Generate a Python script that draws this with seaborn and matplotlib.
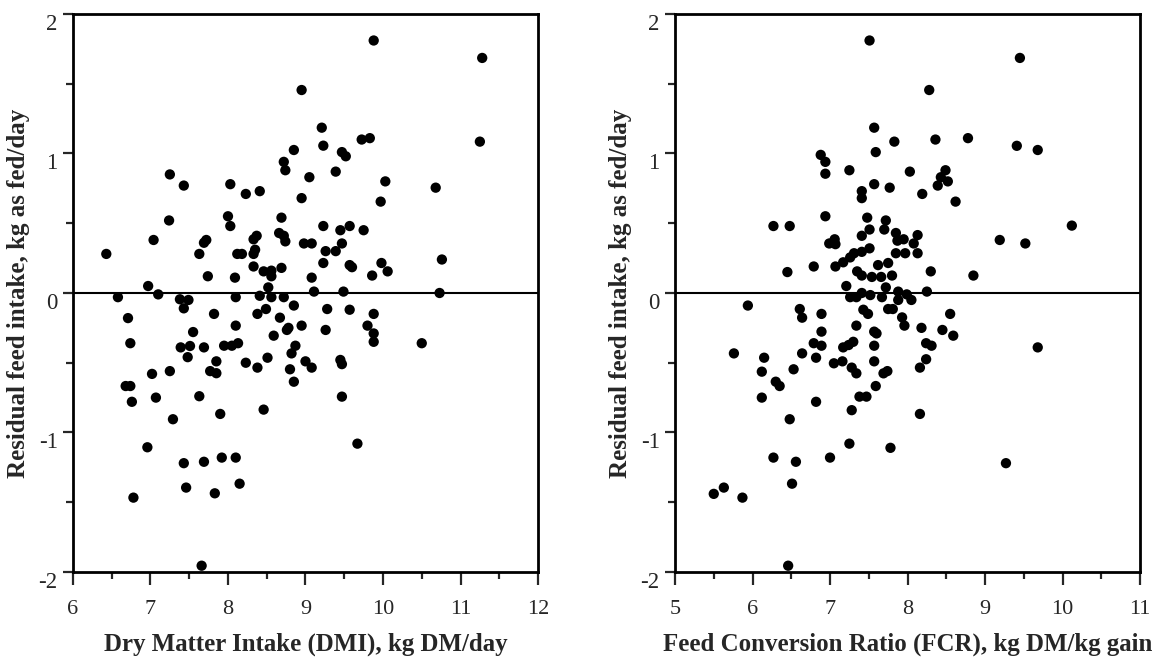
import matplotlib
matplotlib.use("Agg")
import matplotlib.pyplot as plt
import seaborn as sns
import pandas as pd
from matplotlib.ticker import MultipleLocator

# left panel: dry matter intake vs residual feed intake
dmi = [6.43, 7.25, 7.43, 7.24, 7.04, 7.63, 7.69, 7.72, 7.74, 6.97, 7.10,
       9.88, 8.95, 9.21, 9.23, 9.725, 9.83, 8.85, 9.47, 9.52, 8.72, 8.74,
       9.39, 9.05, 8.03, 8.23, 8.41, 8.95, 9.97, 8.00, 8.03, 8.69, 9.23,
       9.45, 9.57, 9.75, 8.33, 8.37, 8.66, 8.72, 8.74, 8.98, 9.08, 8.35,
       8.33, 8.12, 8.18, 9.26, 9.39, 9.47, 9.23, 9.57, 9.60, 9.98, 8.33,
       8.46, 8.56, 8.56, 8.69, 8.52, 8.09, 9.08, 9.86, 9.11, 9.49, 11.28,
       11.25, 10.03, 10.68, 10.06, 10.76, 10.73,
       6.58, 7.38, 7.49, 7.43, 6.71, 7.82, 7.55, 6.74, 7.39, 7.51, 7.69,
       7.48, 7.85, 7.02, 7.25, 7.77, 7.85, 6.68, 6.74, 6.76, 7.07, 7.63,
       7.29, 7.90, 6.96, 7.43, 7.69, 7.92, 8.10, 7.46, 6.78, 7.83, 7.66,
       8.10, 8.41, 8.56, 8.72, 8.38, 8.49, 8.85, 9.28, 9.57, 9.88, 8.10,
       8.67, 8.95, 8.76, 8.78, 8.59, 9.26, 9.80, 9.88, 9.88, 7.95, 8.05,
       8.13, 8.87, 8.82, 8.23, 8.38, 8.51, 8.80, 9.00, 9.08, 9.45, 9.47,
       8.85, 9.47, 8.46, 9.67, 8.15, 10.50]
rfi_dmi = [0.28, 0.85, 0.77, 0.52, 0.38, 0.28, 0.36, 0.38, 0.12, 0.05, -0.01,
           1.81, 1.455, 1.185, 1.056, 1.10, 1.11, 1.025, 1.01, 0.98, 0.94, 0.88,
           0.87, 0.83, 0.78, 0.71, 0.73, 0.68, 0.655, 0.55, 0.48, 0.54, 0.48,
           0.45, 0.48, 0.45, 0.385, 0.41, 0.43, 0.41, 0.37, 0.355, 0.355, 0.31,
           0.28, 0.28, 0.28, 0.30, 0.30, 0.355, 0.215, 0.20, 0.185, 0.215, 0.19,
           0.155, 0.16, 0.12, 0.18, 0.04, 0.11, 0.11, 0.125, 0.01, 0.01, 1.685,
           1.085, 0.80, 0.755, 0.155, 0.24, 0.0,
           -0.03, -0.045, -0.05, -0.11, -0.18, -0.15, -0.28, -0.36, -0.39, -0.38, -0.39,
           -0.46, -0.49, -0.58, -0.56, -0.56, -0.575, -0.667, -0.667, -0.78, -0.75, -0.74,
           -0.905, -0.867, -1.106, -1.22, -1.21, -1.18, -1.18, -1.395, -1.467, -1.436, -1.955,
           -0.03, -0.02, -0.03, -0.03, -0.15, -0.115, -0.09, -0.115, -0.12, -0.15, -0.234,
           -0.177, -0.234, -0.265, -0.25, -0.306, -0.265, -0.234, -0.29, -0.35, -0.378, -0.378,
           -0.36, -0.378, -0.433, -0.50, -0.535, -0.464, -0.547, -0.49, -0.535, -0.48, -0.51,
           -0.636, -0.743, -0.836, -1.08, -1.367, -0.36]

# right panel: feed conversion ratio vs residual feed intake
fcr = [6.27, 6.48, 6.45, 7.51, 8.28, 7.57, 7.83, 7.59, 6.88, 6.94, 6.94,
       7.25, 8.03, 7.57, 7.77, 7.41, 7.41, 8.19, 6.94, 7.48, 7.72, 7.51,
       7.41, 7.70, 7.85, 7.87, 7.95, 8.13, 8.08, 6.99, 7.06, 7.07, 7.51,
       7.31, 7.41, 7.26, 7.17, 7.07, 6.79, 7.85, 7.97, 8.13, 7.62, 7.75,
       7.35, 7.41, 7.54, 7.66, 7.80, 7.72, 7.21, 8.30, 8.25, 9.45, 8.36,
       8.78, 9.41, 9.68, 8.49, 8.43, 8.52, 8.39, 8.62, 10.12, 9.19, 9.52,
       8.85, 7.41, 7.88,
       7.26, 7.34, 7.52, 7.67, 7.88, 7.99, 8.05, 5.94, 6.61, 6.64, 5.76,
       6.15, 6.64, 6.12, 6.53, 6.30, 6.35, 6.12, 6.48, 6.27, 6.56, 6.51,
       5.50, 5.63, 5.87, 6.46, 6.89, 7.43, 7.49, 7.75, 7.81, 7.93, 7.96,
       8.18, 7.34, 6.89, 7.57, 7.60, 6.79, 6.89, 7.17, 7.24, 7.30, 7.57,
       8.24, 8.24, 6.82, 7.05, 7.16, 7.28, 7.34, 7.57, 7.69, 7.74, 8.16,
       7.59, 7.38, 7.47, 6.82, 7.28, 8.16, 7.25, 7.78, 7.00, 8.55, 8.45,
       8.59, 8.31, 9.68, 9.27]
rfi_fcr = [0.48, 0.48, 0.15, 1.81, 1.455, 1.185, 1.085, 1.01, 0.99, 0.94, 0.855,
           0.88, 0.87, 0.78, 0.755, 0.73, 0.68, 0.71, 0.55, 0.54, 0.52, 0.455,
           0.41, 0.455, 0.43, 0.375, 0.385, 0.415, 0.355, 0.355, 0.385, 0.35, 0.32,
           0.285, 0.295, 0.255, 0.22, 0.19, 0.19, 0.285, 0.285, 0.285, 0.20, 0.215,
           0.155, 0.125, 0.115, 0.115, 0.125, 0.04, 0.05, 0.155, 0.01, 1.685, 1.10,
           1.11, 1.055, 1.025, 0.88, 0.83, 0.80, 0.77, 0.655, 0.483, 0.38, 0.355,
           0.125, 0.0, 0.01,
           -0.03, -0.03, -0.015, -0.03, -0.05, -0.01, -0.05, -0.09, -0.115, -0.177, -0.433,
           -0.464, -0.433, -0.564, -0.547, -0.636, -0.667, -0.75, -0.905, -1.18, -1.21, -1.367,
           -1.44, -1.395, -1.467, -1.955, -0.15, -0.12, -0.15, -0.115, -0.115, -0.175, -0.234,
           -0.25, -0.234, -0.277, -0.277, -0.29, -0.36, -0.378, -0.39, -0.373, -0.35, -0.378,
           -0.36, -0.475, -0.464, -0.504, -0.49, -0.535, -0.576, -0.49, -0.576, -0.56, -0.535,
           -0.667, -0.743, -0.743, -0.78, -0.84, -0.867, -1.08, -1.11, -1.18, -0.15, -0.265,
           -0.306, -0.378, -0.39, -1.22]

left_df = pd.DataFrame({'DMI': dmi, 'RFI': rfi_dmi})
right_df = pd.DataFrame({'FCR': fcr, 'RFI': rfi_fcr})

sns.set_style("ticks")
plt.rcParams['font.family'] = ['Liberation Serif', 'DejaVu Serif']
plt.rcParams['axes.unicode_minus'] = False

fig = plt.figure(figsize=(11.62, 6.57), dpi=100)
ax1 = fig.add_axes([0.0628, 0.1294, 0.4002, 0.8493])
ax2 = fig.add_axes([0.5809, 0.1294, 0.4002, 0.8493])


def style_panel(ax, xlim, xlabel):
    ax.axhline(0, color='black', lw=1.5, zorder=1)
    ax.set_xlim(*xlim)
    ax.set_ylim(-2, 2)
    ax.xaxis.set_major_locator(MultipleLocator(1))
    ax.xaxis.set_minor_locator(MultipleLocator(0.5))
    ax.yaxis.set_major_locator(MultipleLocator(1))
    ax.yaxis.set_minor_locator(MultipleLocator(0.5))
    for s in ax.spines.values():
        s.set_linewidth(2)
        s.set_color('black')
    ax.tick_params(axis='x', which='major', direction='out', length=9.5, width=1.6,
                   pad=11, labelsize=16, top=False)
    ax.tick_params(axis='x', which='minor', direction='out', length=5, width=1.6, top=False)
    ax.tick_params(axis='y', which='major', direction='out', length=7, width=1.6,
                   pad=4, labelsize=16.5, right=False)
    ax.tick_params(axis='y', which='minor', direction='out', length=5, width=1.6, right=False)
    # y tick labels in the original sit a little below their ticks
    for lab in ax.get_yticklabels():
        lab.set_verticalalignment('top')
    ax.set_xlabel(xlabel, fontsize=17.9, fontweight='bold', labelpad=9.5)
    ax.set_ylabel('Residual feed intake, kg as fed/day', fontsize=18,
                  fontweight='bold', labelpad=6)


sns.scatterplot(data=left_df, x='DMI', y='RFI', ax=ax1, color='black',
                s=55, edgecolor='none', zorder=3)
style_panel(ax1, (6, 12), 'Dry Matter Intake (DMI), kg DM/day')

sns.scatterplot(data=right_df, x='FCR', y='RFI', ax=ax2, color='black',
                s=55, edgecolor='none', zorder=3)
style_panel(ax2, (5, 11), 'Feed Conversion Ratio (FCR), kg DM/kg gain')

fig.savefig('out.png', dpi=100)
